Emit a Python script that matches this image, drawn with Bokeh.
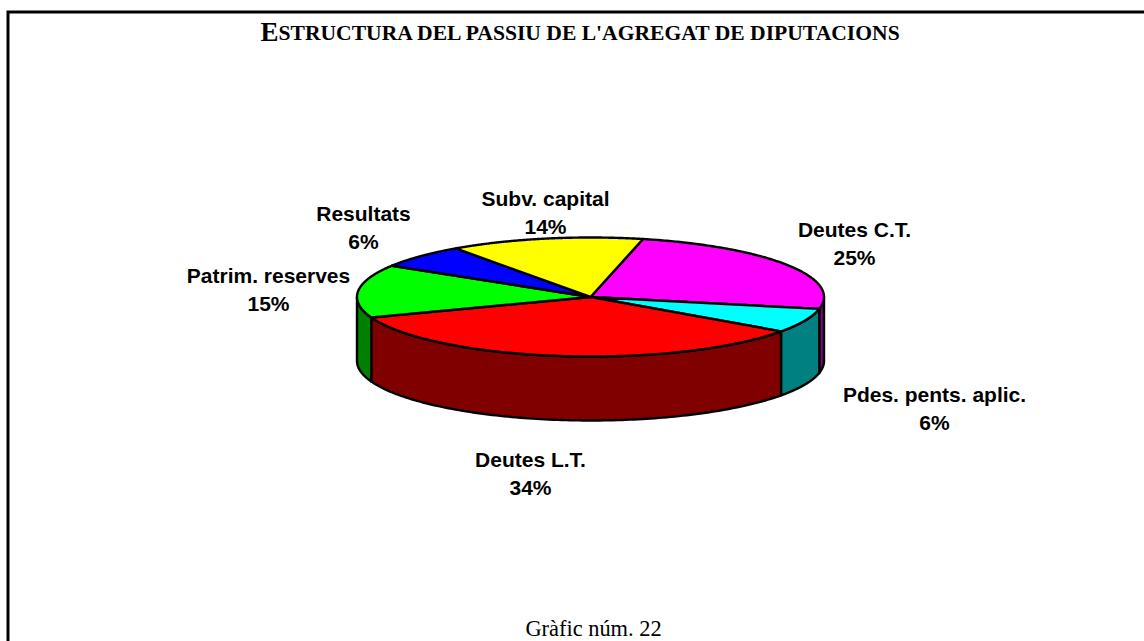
import numpy as np
from bokeh.plotting import figure
from bokeh.models import Range1d, ColumnDataSource
from bokeh.core.properties import value
from bokeh.embed import file_html
from bokeh.resources import INLINE

# ---- data (clockwise from the start angle) ----
categories = ["Deutes C.T.", "Pdes. pents. aplic.", "Deutes L.T.",
              "Patrim. reserves", "Resultats", "Subv. capital"]
shares = [24.6, 6.6, 34.6, 14.4, 6.4, 13.4]
percent_labels = ["25%", "6%", "34%", "15%", "6%", "14%"]
top_colors = ["#FF00FF", "#00FFFF", "#FF0000", "#00FF00", "#0000FF", "#FFFF00"]
side_colors = ["#800080", "#008080", "#800000", "#008000", "#000080", "#808000"]
title_initial = "E"
title_rest = "STRUCTURA DEL PASSIU DE L'AGREGAT DE DIPUTACIONS"
caption = "Gràfic núm. 22"

# ---- layout ----
W, H = 1144, 641
CX, CY, RX, RY, DEPTH = 590.0, 296.5, 233.5, 59.5, 64.0
START_DEG = 77.0
label_cx = [854, 934, 530, 268, 363, 545]
label_cy = [229, 394, 459, 275, 213, 198]
LINE_GAP = 28.0
EDGE = 2.4

p = figure(width=W, height=H, output_backend="svg", toolbar_location=None,
           x_range=Range1d(0, W), y_range=Range1d(H, 0),
           min_border=0, outline_line_color=None, background_fill_color="white",
           border_fill_color="white")
p.axis.visible = False
p.grid.visible = False

# frame (open on the right and at the bottom)
p.line([7.5, 7.5, W], [H, 11.5, 11.5], line_color="black", line_width=3,
       line_join="miter")

# slices
shares_arr = np.array(shares, dtype=float)
edges = START_DEG - np.concatenate([[0], np.cumsum(shares_arr)]) / shares_arr.sum() * 360.0
slices = list(zip(edges[:-1], edges[1:]))


def ex(t):
    return CX + RX * np.cos(np.radians(t))


def ey(t):
    return CY - RY * np.sin(np.radians(t))


# side walls: only the part of each slice in the front half (sin t < 0)
for (a, b), col in zip(slices, side_colors):
    lo, hi = b, a  # lo < hi
    # visible front half: t in [-180, 0] modulo 360
    for shift in (0, -360, 360):
        l2 = max(lo + shift, -180.0)
        h2 = min(hi + shift, 0.0)
        if h2 > l2:
            t = np.linspace(l2, h2, 120)
            xs = np.concatenate([ex(t), ex(t)[::-1]])
            ys = np.concatenate([ey(t), (ey(t) + DEPTH)[::-1]])
            p.patch(xs, ys, fill_color=col, line_color="black", line_width=EDGE,
                    line_join="round")

# top faces
for (a, b), col in zip(slices, top_colors):
    t = np.linspace(a, b, 160)
    xs = np.concatenate([[CX], ex(t)])
    ys = np.concatenate([[CY], ey(t)])
    p.patch(xs, ys, fill_color=col, line_color="black", line_width=EDGE,
            line_join="round")

# labels
sans = value("Liberation Sans")
serif = value("Liberation Serif")
src = ColumnDataSource(dict(
    x=label_cx, y=label_cy, name=categories, pct=percent_labels,
    y2=[v + LINE_GAP for v in label_cy]))
p.text("x", "y", text="name", source=src, text_font=sans, text_font_style="bold",
       text_font_size="21px", text_align="center", text_baseline="middle",
       text_color="black")
p.text("x", "y2", text="pct", source=src, text_font=sans, text_font_style="bold",
       text_font_size="21px", text_align="center", text_baseline="middle",
       text_color="black")

# title (small-caps effect)
p.text([260], [31], text=[title_initial], text_font=serif, text_font_style="bold",
       text_font_size="27px", text_align="left", text_baseline="middle",
       text_color="black")
p.text([278], [32], text=[title_rest], text_font=serif, text_font_style="bold",
       text_font_size="21.6px", text_align="left", text_baseline="middle",
       text_color="black")

# caption
p.text([593], [628], text=[caption], text_font=serif, text_font_size="22.4px",
       text_align="center", text_baseline="middle", text_color="black")

open("out.html", "w").write(file_html(p, INLINE))
